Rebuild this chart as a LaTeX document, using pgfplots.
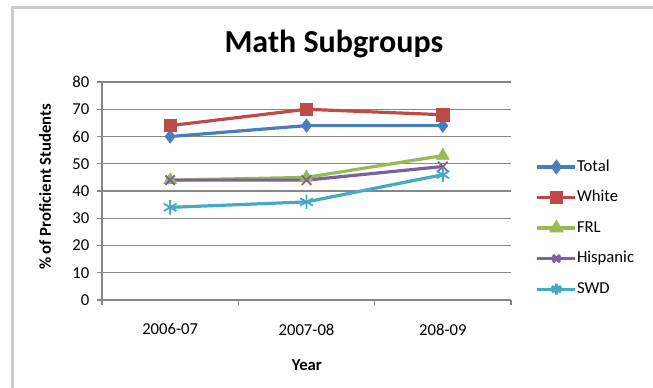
\documentclass[border=0pt]{standalone}
\usepackage{pgfplots}
\pgfplotsset{compat=1.18}
\usepackage{fontspec}
\setmainfont{Carlito}

\definecolor{cTotal}{HTML}{4A7EBB}
\definecolor{cWhite}{HTML}{BE4B48}
\definecolor{cFRL}{HTML}{98B954}
\definecolor{cHisp}{HTML}{7D60A0}
\definecolor{cSWD}{HTML}{46AAC5}
\definecolor{axisgray}{HTML}{868686}
\definecolor{framegray}{HTML}{CCCCCC}

% one screen pixel
\def\u{0.75pt}

\begin{document}
\begin{tikzpicture}
  \path[use as bounding box] (0,0) rectangle ({653*\u},{-387*\u});
  % chart area frame
  \draw[framegray, line width={3*\u}] ({12*\u},{-400*\u}) -- ({12*\u},{-7.5*\u}) -- ({670*\u},{-7.5*\u});

  \begin{axis}[
    at={({102*\u},{-300*\u})}, anchor=south west,
    scale only axis, width={409*\u}, height={218*\u},
    xmin=-0.5, xmax=2.5, ymin=0, ymax=80,
    axis x line=bottom, axis y line=left,
    axis line style={-, draw=axisgray, line width=0.8pt},
    xtick={-0.5,0.5,1.5,2.5},
    x tick label as interval,
    xticklabels={2006-07,2007-08,208-09,},
    ytick={0,10,...,80},
    tick align=outside, major tick length={5*\u},
    tick style={draw=axisgray, line width=0.8pt},
    ymajorgrids, xmajorgrids=false,
    grid style={draw=axisgray, line width=0.8pt},
    /pgf/number format/assume math mode=true,
    tick label style={font=\fontsize{12.5}{14}\selectfont},
    xticklabel style={yshift={-14*\u}},
    yticklabel style={xshift={-3*\u}},
    title={Math Subgroups},
    title style={font=\bfseries\fontsize{24}{28}\selectfont,
      at={(axis description cs:0.567,1.138)}, anchor=center},
    xlabel={Year},
    xlabel style={font=\bfseries\fontsize{12.5}{14}\selectfont,
      at={(axis description cs:0.501,-0.298)}, anchor=center},
    ylabel={\% of Proficient Students},
    ylabel style={font=\bfseries\fontsize{12.5}{14}\selectfont,
      at={(axis description cs:-0.139,0.518)}, anchor=center, rotate=0},
    every axis plot/.append style={line width=2.4pt},
    legend style={
      at={(axis description cs:1.06,0.648)}, anchor=north west,
      draw=none, fill=none, inner sep=0pt,
      font=\fontsize{12.5}{14}\selectfont,
      row sep={10.9pt},
      nodes={text height=9pt, text depth=3pt, inner sep=0pt},
    },
    legend cell align=left,
    legend image code/.code={
      \draw[mark repeat=2, mark phase=2, line width=2.4pt,
            mark options={scale=0.75}]
        plot coordinates {(0pt,0pt) (14.25pt,0pt) (28.5pt,0pt)};
      \hspace{1.5pt}
    },
  ]
    \addplot[cTotal, mark=diamond*, mark size=5pt, mark options={solid, fill=cTotal, line width=0.5pt}]
      coordinates {(0,60) (1,64) (2,64)};
    \addlegendentry{Total}
    \addplot[cWhite, mark=square*, mark size=4.6pt, mark options={solid, fill=cWhite, line width=0.5pt}]
      coordinates {(0,64) (1,70) (2,68)};
    \addlegendentry{White}
    \addplot[cFRL, mark=triangle*, mark size=5.5pt, mark options={solid, fill=cFRL, line width=0.5pt}]
      coordinates {(0,44) (1,45) (2,53)};
    \addlegendentry{FRL}
    \addplot[cHisp, mark=x, mark size=5pt, mark options={solid, line width=1.4pt}]
      coordinates {(0,44) (1,44) (2,49)};
    \addlegendentry{Hispanic}
    \addplot[cSWD, mark=asterisk, mark size=5.5pt, mark options={solid, line width=1.4pt}]
      coordinates {(0,34) (1,36) (2,46)};
    \addlegendentry{SWD}
  \end{axis}
\end{tikzpicture}
\end{document}
